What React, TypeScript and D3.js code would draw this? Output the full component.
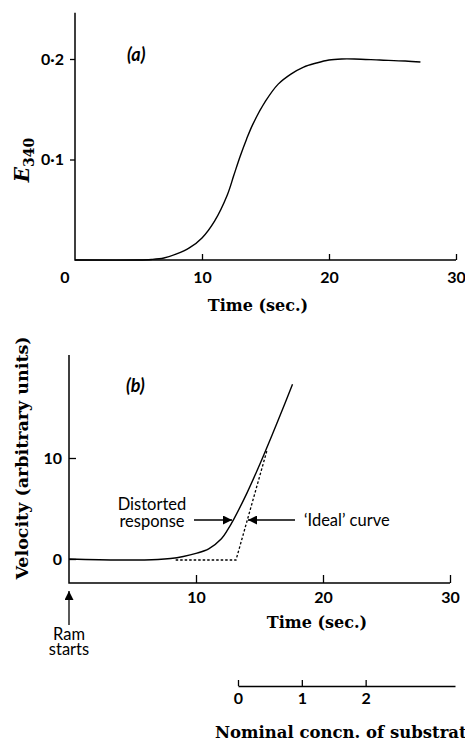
import React, { useEffect, useRef } from 'react';
import * as d3 from 'd3';

// panel (a): extinction at 340 nm vs time
const timeA = [0, 5, 6, 7, 8, 9, 10, 11, 12, 12.5, 13, 13.5, 14, 15, 16, 17, 18, 19, 20, 21, 22, 24, 26, 27.2];
const extA = [0, 0, 0.0005, 0.002, 0.006, 0.012, 0.022, 0.039, 0.065, 0.084, 0.103, 0.12, 0.135, 0.158, 0.175, 0.185, 0.192, 0.196, 0.199, 0.2, 0.2, 0.199, 0.198, 0.197];

// panel (b): velocity, distorted response
const timeB = [0, 4, 7, 8, 9, 10, 11, 12, 12.5, 13, 14, 15, 16, 17, 17.6];
const velB = [0, -0.1, -0.05, 0.05, 0.25, 0.55, 1.0, 2.0, 2.9, 4.0, 6.5, 9.3, 12.3, 15.4, 17.3];

// panel (b): 'ideal' curve
const idealTime = [8.4, 13.15, 15.6];
const idealVel = [-0.1, -0.1, 10.8];

const timeTicks = [10, 20, 30];
const extTicks = [0.1, 0.2];
const velTicks = [0, 10];
const concnTicks = [0, 1, 2];

const sans = 'Lato, "Open Sans", sans-serif';
const serif = '"DejaVu Serif", serif';

export default function App() {
  const ref = useRef<SVGSVGElement>(null);

  useEffect(() => {
    const svg = d3.select(ref.current);
    svg.selectAll('*').remove();

    // arrowhead
    svg.append('defs').append('marker')
      .attr('id', 'head')
      .attr('viewBox', '0 0 10 10')
      .attr('refX', 10).attr('refY', 5)
      .attr('markerWidth', 12).attr('markerHeight', 9)
      .attr('markerUnits', 'userSpaceOnUse')
      .attr('orient', 'auto')
      .append('path').attr('d', 'M0,0L10,5L0,10Z').attr('fill', '#000');

    const tickText = (g: any) => g.selectAll('text')
      .attr('font-family', sans).attr('font-weight', 'bold').attr('font-size', 16).attr('fill', '#000');

    const smooth = d3.curveCatmullRom.alpha(0.5);

    // ---------- panel (a) ----------
    const xA = d3.scaleLinear().domain([0, 30]).range([75, 456]);
    const yA = d3.scaleLinear().domain([0, 0.2]).range([260, 59]);
    const a = svg.append('g');

    a.append('path')
      .attr('d', `M${xA(0)},${yA(0.246)}V${yA(0)}H${xA(30)}`)
      .attr('fill', 'none').attr('stroke', '#000').attr('stroke-width', 1.5);

    const axAx = a.append('g').attr('transform', `translate(0,${yA(0)})`)
      .call(d3.axisBottom(xA).tickValues(timeTicks).tickSizeInner(-6).tickSizeOuter(0));
    axAx.select('.domain').remove();
    axAx.selectAll('line').attr('stroke-width', 1.3);
    axAx.call(tickText);
    axAx.selectAll('text').attr('y', 17).attr('dy', '0.35em');
    a.append('text').attr('x', 65).attr('y', 277).attr('dy', '0.35em')
      .attr('text-anchor', 'middle').attr('font-family', sans).attr('font-weight', 'bold')
      .attr('font-size', 16).text('0');

    const ayAx = a.append('g').attr('transform', `translate(${xA(0)},0)`)
      .call(d3.axisLeft(yA).tickValues(extTicks).tickSizeInner(5).tickSizeOuter(0).tickPadding(6)
        .tickFormat(d => d3.format('.1f')(d as number).replace('.', '·')));
    ayAx.select('.domain').remove();
    ayAx.selectAll('line').attr('stroke-width', 1.3);
    ayAx.call(tickText);

    a.append('path')
      .datum(timeA.map((t, i) => [t, extA[i]] as [number, number]))
      .attr('d', d3.line().x(d => xA(d[0])).y(d => yA(d[1])).curve(smooth))
      .attr('fill', 'none').attr('stroke', '#000').attr('stroke-width', 1.4);

    a.append('text').attr('x', 127).attr('y', 61)
      .attr('font-family', sans).attr('font-style', 'italic').attr('font-weight', 'bold')
      .attr('font-size', 18).text('(a)');

    a.append('text').attr('x', 258).attr('y', 305).attr('dy', '0.35em')
      .attr('text-anchor', 'middle').attr('font-family', serif).attr('font-weight', 'bold')
      .attr('font-size', 16).text('Time (sec.)');

    const eLab = a.append('text')
      .attr('transform', 'translate(29,160) rotate(-90)')
      .attr('text-anchor', 'middle').attr('font-family', serif).attr('font-weight', 'bold')
      .attr('font-size', 20);
    eLab.append('tspan').attr('font-style', 'italic').text('E');
    eLab.append('tspan').attr('font-size', 14).attr('dy', 5).text('340');

    // ---------- panel (b) ----------
    const xB = d3.scaleLinear().domain([0, 30]).range([69, 450]);
    const yB = d3.scaleLinear().domain([0, 10]).range([559, 458]);
    const b = svg.append('g');
    const baseY = 583;

    b.append('path')
      .attr('d', `M${xB(0)},${yB(20.2)}V${baseY}H${xB(30)}`)
      .attr('fill', 'none').attr('stroke', '#000').attr('stroke-width', 1.5);

    const bxAx = b.append('g').attr('transform', `translate(0,${baseY})`)
      .call(d3.axisBottom(xB).tickValues(timeTicks).tickSizeInner(-8).tickSizeOuter(0));
    bxAx.select('.domain').remove();
    bxAx.selectAll('line').attr('stroke-width', 1.3);
    bxAx.call(tickText);
    bxAx.selectAll('text').attr('y', 14).attr('dy', '0.35em');

    const byAx = b.append('g').attr('transform', `translate(${xB(0)},0)`)
      .call(d3.axisLeft(yB).tickValues(velTicks).tickSizeInner(-7).tickSizeOuter(0).tickPadding(7));
    byAx.select('.domain').remove();
    byAx.selectAll('line').attr('stroke-width', 1.3);
    byAx.call(tickText);

    b.append('path')
      .datum(timeB.map((t, i) => [t, velB[i]] as [number, number]))
      .attr('d', d3.line().x(d => xB(d[0])).y(d => yB(d[1])).curve(smooth))
      .attr('fill', 'none').attr('stroke', '#000').attr('stroke-width', 1.4);

    b.append('path')
      .datum(idealTime.map((t, i) => [t, idealVel[i]] as [number, number]))
      .attr('d', d3.line().x(d => xB(d[0])).y(d => yB(d[1])))
      .attr('fill', 'none').attr('stroke', '#000').attr('stroke-width', 1.3)
      .attr('stroke-dasharray', '2.5,2');

    b.append('text').attr('x', 126).attr('y', 392)
      .attr('font-family', sans).attr('font-style', 'italic').attr('font-weight', 'bold')
      .attr('font-size', 18).text('(b)');

    // annotations
    const note = (x: number, y: number, s: string, anchor = 'start') =>
      b.append('text').attr('x', x).attr('y', y).attr('dy', '0.35em').attr('text-anchor', anchor)
        .attr('font-family', sans).attr('font-size', 16.5).text(s);
    note(152, 504, 'Distorted', 'middle');
    note(152, 521, 'response', 'middle');
    note(304, 520, '‘Ideal’ curve');

    b.append('line').attr('x1', 194).attr('y1', 520).attr('x2', 232).attr('y2', 520)
      .attr('stroke', '#000').attr('stroke-width', 1.3).attr('marker-end', 'url(#head)');
    b.append('line').attr('x1', 295).attr('y1', 520).attr('x2', 248).attr('y2', 520)
      .attr('stroke', '#000').attr('stroke-width', 1.3).attr('marker-end', 'url(#head)');

    b.append('line').attr('x1', xB(0)).attr('y1', 625).attr('x2', xB(0)).attr('y2', 591)
      .attr('stroke', '#000').attr('stroke-width', 1.3).attr('marker-end', 'url(#head)');
    note(xB(0), 634.5, 'Ram', 'middle');
    note(xB(0), 649, 'starts', 'middle');

    b.append('text').attr('x', 317).attr('y', 622).attr('dy', '0.35em')
      .attr('text-anchor', 'middle').attr('font-family', serif).attr('font-weight', 'bold')
      .attr('font-size', 16).text('Time (sec.)');

    b.append('text')
      .attr('transform', 'translate(22,458) rotate(-90)').attr('dy', '0.35em')
      .attr('text-anchor', 'middle').attr('font-family', serif).attr('font-weight', 'bold')
      .attr('font-size', 17.5).text('Velocity (arbitrary units)');

    // ---------- nominal concentration scale ----------
    const xC = d3.scaleLinear().domain([0, 3.4]).range([238, 455]);
    const c = svg.append('g').attr('transform', 'translate(0,686)')
      .call(d3.axisBottom(xC).tickValues(concnTicks).tickSizeInner(-6).tickSizeOuter(0)
        .tickFormat(d3.format('d')));
    c.select('.domain').attr('stroke-width', 1.3);
    c.selectAll('line').attr('stroke-width', 1.3);
    c.call(tickText);
    c.selectAll('text').attr('y', 12).attr('dy', '0.35em');

    svg.append('text').attr('x', 215).attr('y', 732).attr('dy', '0.35em')
      .attr('font-family', serif).attr('font-weight', 'bold')
      .attr('font-size', 16.5).text('Nominal concn. of substrate');
  }, []);

  return (
    <div style={{ position: 'absolute', left: 0, top: 0 }}>
      <svg ref={ref} width={465} height={743} style={{ display: 'block', background: '#fff' }} />
    </div>
  );
}
